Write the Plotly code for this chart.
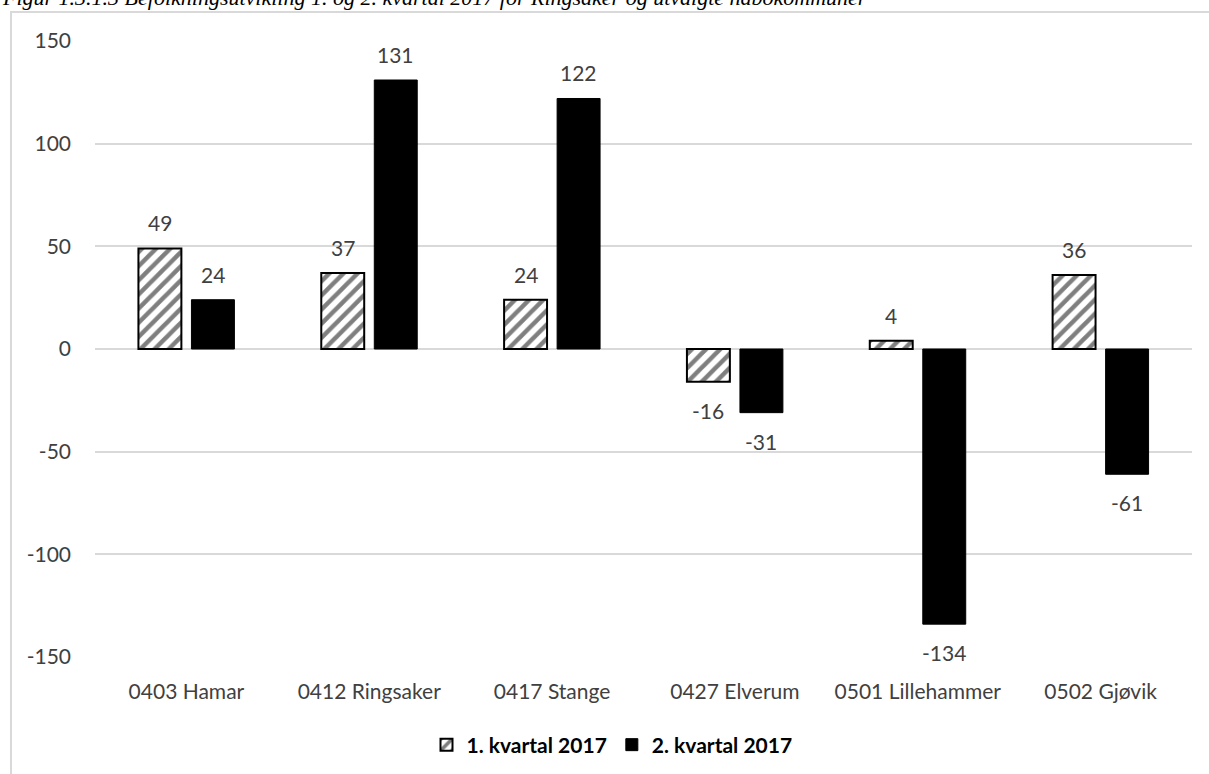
import plotly.graph_objects as go

categories = ["0403 Hamar", "0412 Ringsaker", "0417 Stange", "0427 Elverum", "0501 Lillehammer", "0502 Gjøvik"]
q1_values = [49, 37, 24, -16, 4, 36]
q2_values = [24, 131, 122, -31, -134, -61]
series_names = ["1. kvartal 2017", "2. kvartal 2017"]
y_ticks = [-150, -100, -50, 0, 50, 100, 150]
title_text = "Figur 1.3.1.3 Befolkningsutvikling 1. og 2. kvartal 2017 for Ringsaker og utvalgte nabokommuner"

W, H = 1209, 774
ML, MR, MT, MB = 95, 17, 41, 117
PW, PH = W - ML - MR, H - MT - MB

FONT = "Lato, Calibri, sans-serif"
TXT = "#404040"
FS = 21

BARGAP, GROUPGAP = 0.42, 0.19
slot_px = PW / len(categories) * (1 - BARGAP) / 2

fig = go.Figure()
fig.add_trace(go.Bar(
    x=categories, y=q1_values, name=series_names[0],
    marker=dict(color="white", line=dict(color="black", width=2),
                pattern=dict(shape="/", fgcolor="black", bgcolor="white", size=10, solidity=0.45)),
))
fig.add_trace(go.Bar(
    x=categories, y=q2_values, name=series_names[1],
    marker=dict(color="black", line=dict(color="black", width=1)),
))

annotations = []
for vals, sign in ((q1_values, -1), (q2_values, 1)):
    for cat, v in zip(categories, vals):
        annotations.append(dict(
            x=cat, y=v, xref="x", yref="y", text=str(v), showarrow=False,
            xshift=sign * slot_px / 2,
            yanchor="bottom" if v >= 0 else "top",
            yshift=11 if v >= 0 else -14,
            font=dict(family=FONT, size=FS, color=TXT),
        ))

annotations.append(dict(
    text=title_text, xref="paper", yref="paper",
    x=(0 - ML) / PW, y=1 + (MT - 12) / PH, xanchor="left", yanchor="bottom",
    showarrow=False, font=dict(family="Liberation Serif, Times New Roman, serif", size=22,
                               color="black", style="italic"),
))

fig.update_layout(
    width=W, height=H,
    margin=dict(l=ML, r=MR, t=MT, b=MB, autoexpand=False),
    paper_bgcolor="white", plot_bgcolor="white",
    barmode="group", bargap=BARGAP, bargroupgap=GROUPGAP,
    font=dict(family=FONT, size=FS, color=TXT),
    showlegend=True,
    legend=dict(orientation="h", x=(612 - ML) / PW, xanchor="center",
                y=-(745 - (MT + PH)) / PH, yanchor="middle",
                font=dict(family=FONT, size=21, color="black", weight="bold"),
                tracegroupgap=0, itemwidth=30),
    xaxis=dict(showgrid=False, showline=False, zeroline=False, ticks="",
               tickfont=dict(family=FONT, size=FS, color=TXT), ticklabelstandoff=20),
    yaxis=dict(range=[-150, 150], tickvals=y_ticks, ticktext=[str(t) for t in y_ticks],
               showgrid=True, gridcolor="#d9d9d9", gridwidth=2,
               zeroline=True, zerolinecolor="#d9d9d9", zerolinewidth=2, showline=False, ticks="",
               tickfont=dict(family=FONT, size=FS, color=TXT), ticklabelstandoff=23),
    annotations=annotations,
    shapes=[dict(type="rect", xref="paper", yref="paper",
                 x0=(11 - ML) / PW, x1=(W + 20 - ML) / PW,
                 y0=1 + (MT - 12) / PH, y1=-(H + 20 - MT - PH) / PH,
                 line=dict(color="#d9d9d9", width=2), fillcolor="rgba(0,0,0,0)", layer="below")],
)

fig.write_html("out.html", config={"displayModeBar": False},
               post_script="document.body.style.margin='0';document.body.style.overflow='hidden';")
